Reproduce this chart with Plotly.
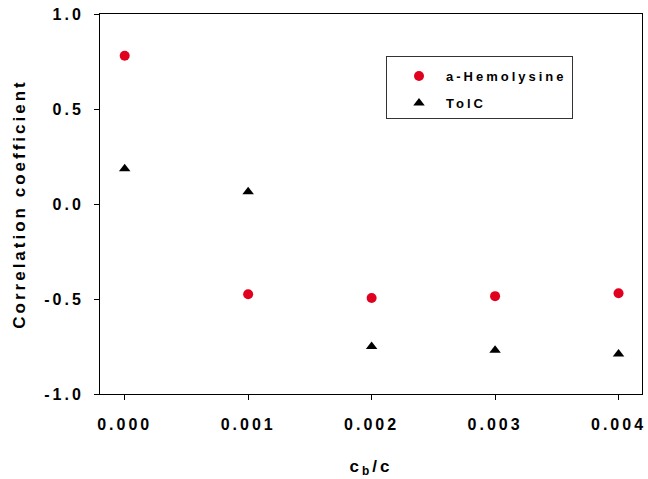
import plotly.graph_objects as go

# ---- data ----
cb_ratio = [0.000, 0.001, 0.002, 0.003, 0.004]
hemolysine = [0.78, -0.475, -0.495, -0.485, -0.47]
tolc = [0.185, 0.065, -0.75, -0.77, -0.79]

x_tickvals = [0.000, 0.001, 0.002, 0.003, 0.004]
x_ticktext = ["0.000", "0.001", "0.002", "0.003", "0.004"]
y_tickvals = [-1.0, -0.5, 0.0, 0.5, 1.0]
y_ticktext = ["-1.0", "-0.5", "0.0", "0.5", "1.0"]

FONT = "Liberation Sans, Arial, sans-serif"
FONT2 = "Liberation Sans, Arial, Helvetica, sans-serif"
RED = "#E2001F"

fig = go.Figure()
fig.add_trace(go.Scatter(
    x=cb_ratio, y=hemolysine, mode="markers", name="a-Hemolysine",
    legendgroup="a",
    marker=dict(symbol="circle", size=10, color=RED, line=dict(width=0)),
))
fig.add_trace(go.Scatter(
    x=cb_ratio, y=tolc, mode="markers", name="TolC",
    legendgroup="b",
    marker=dict(symbol="triangle-up", size=10, color="black", line=dict(width=0)),
))

axis_common = dict(
    showgrid=False, zeroline=False, showline=True, linecolor="black",
    linewidth=1, mirror=True, ticks="outside", ticklen=5, tickwidth=1,
    tickcolor="black", automargin=False,
    tickfont=dict(family=FONT, size=16, color="black", weight="bold"),
)

fig.update_layout(
    template="none",
    width=648, height=479,
    margin=dict(l=100, r=6, t=14, b=85, autoexpand=False),
    paper_bgcolor="white", plot_bgcolor="white",
    font=dict(family=FONT),
    showlegend=True,
    legend=dict(
        x=0.5277, y=0.889, xanchor="left", yanchor="top",
        bgcolor="white", bordercolor="#333333", borderwidth=1,
        font=dict(family=FONT, size=13, color="black", weight="bold"),
        title=dict(text=" ", font=dict(family=FONT, size=3)),
        traceorder="grouped", tracegroupgap=7, itemwidth=44, indentation=5,
    ),
    xaxis=dict(
        range=[-0.0002, 0.00419],
        tickmode="array", tickvals=x_tickvals, ticktext=x_ticktext,
        ticklabelstandoff=11,
        title=dict(text="c<sub>b</sub>/c", standoff=27,
                   font=dict(family=FONT, size=17, color="black", weight="bold")),
        **axis_common,
    ),
    yaxis=dict(
        range=[-1.0, 1.0],
        tickmode="array", tickvals=y_tickvals, ticktext=y_ticktext,
        ticklabelstandoff=7,
        title=dict(text="Correlation coefficient", standoff=14,
                   font=dict(family=FONT, size=17, color="black", weight="bold")),
        **axis_common,
    ),
)

post = """
var s=document.createElement('style');
s.innerHTML='svg text{letter-spacing:3px;} body{margin:0;}';
document.head.appendChild(s);
var gd=document.getElementById('{plot_id}');
var lay=JSON.parse(JSON.stringify(gd.layout).split('%s').join('%s'));
Plotly.newPlot(gd, gd.data, lay, {displayModeBar:false});
""" % (FONT, FONT2)

fig.write_html("out.html", post_script=post, config={"displayModeBar": False})
